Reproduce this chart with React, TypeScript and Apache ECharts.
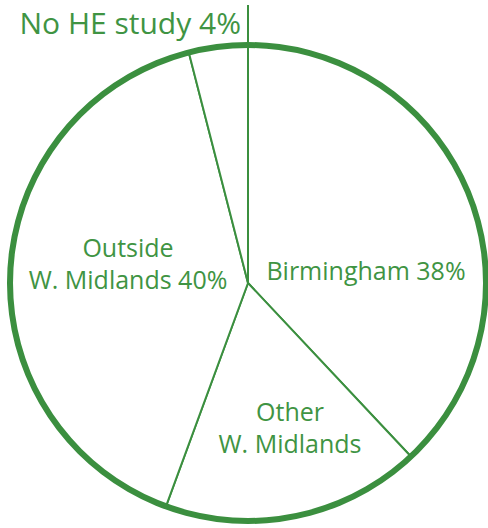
import React, { useEffect, useRef } from "react";
import * as echarts from "echarts";

const categories = ["Birmingham", "Other W. Midlands", "Outside W. Midlands", "No HE study"];
const values = [38, 17.6, 40.4, 4];
const labelTexts = ["Birmingham 38%", "Other\nW. Midlands", "Outside\nW. Midlands 40%", "No HE study 4%"];

const GREEN = "#3b8f3f";
const CX = 248;
const CY = 283;
const R = 238;

// label anchor positions (layout only)
const labelPos: Record<string, { x: number; y: number; align: string; size: number }> = {
  "Birmingham": { x: 366, y: 270, align: "center", size: 25 },
  "Other W. Midlands": { x: 290, y: 427, align: "center", size: 25 },
  "Outside W. Midlands": { x: 128, y: 263, align: "center", size: 25 },
  "No HE study": { x: 241, y: 22, align: "right", size: 30 },
};

export default function App() {
  const ref = useRef<HTMLDivElement>(null);
  useEffect(() => {
    if (!ref.current) return;
    const chart = echarts.init(ref.current, undefined, { renderer: "svg" });
    const data = categories.map((name, i) => ({
      name,
      value: values[i],
      label: { fontSize: labelPos[name].size },
    }));
    chart.setOption({
      animation: false,
      series: [
        {
          type: "pie",
          center: [CX, CY],
          radius: [0, R],
          startAngle: 90,
          clockwise: true,
          avoidLabelOverlap: false,
          itemStyle: { color: "#ffffff", borderColor: GREEN, borderWidth: 2 },
          label: {
            show: true,
            position: "inside",
            color: "#3f9443",
            fontFamily: "Open Sans",
            fontSize: 25,
            lineHeight: 32,
            formatter: (p: any) => labelTexts[p.dataIndex],
          },
          labelLine: { show: false },
          labelLayout: (p: any) => {
            const pos = labelPos[categories[p.dataIndex]];
            return { x: pos.x, y: pos.y, align: pos.align, verticalAlign: "middle" };
          },
          emphasis: { disabled: true },
          data,
        },
        {
          type: "pie",
          center: [CX, CY],
          radius: [R - 3, R + 3],
          silent: true,
          label: { show: false },
          labelLine: { show: false },
          itemStyle: { color: GREEN, borderWidth: 0 },
          emphasis: { disabled: true },
          data: [{ name: "ring", value: 1 }],
        },
      ],
      graphic: [
        {
          type: "line",
          shape: { x1: CX, y1: 5, x2: CX, y2: CY - R },
          style: { stroke: GREEN, lineWidth: 2 },
          z: 10,
        },
      ],
    });
    return () => chart.dispose();
  }, []);
  return (
    <div
      ref={ref}
      style={{ position: "fixed", left: 0, top: 0, width: 488, height: 528, background: "#fff" }}
    />
  );
}
